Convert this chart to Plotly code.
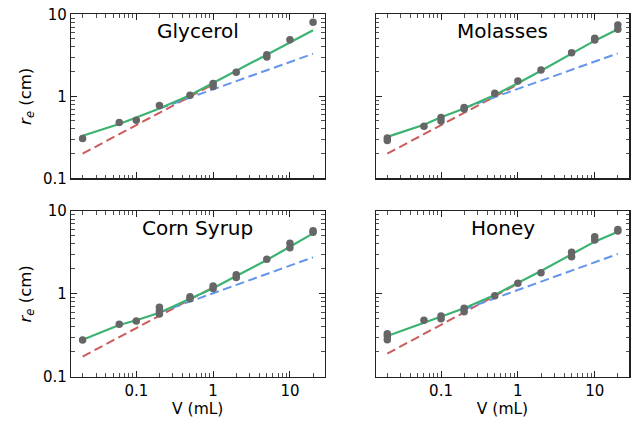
import plotly.graph_objects as go

# ---------------- data ----------------
fluids = ["Glycerol", "Molasses", "Corn Syrup", "Honey"]

glycerol_V = [0.02, 0.06, 0.1, 0.2, 0.5, 1, 1, 2, 5, 5, 10, 20]
glycerol_r = [0.305, 0.48, 0.51, 0.77, 1.03, 1.43, 1.32, 1.96, 3.22, 3.02, 4.9, 7.98]

molasses_V = [0.02, 0.02, 0.06, 0.1, 0.1, 0.2, 0.2, 0.5, 1, 2, 5, 10, 10, 20, 20]
molasses_r = [0.31, 0.29, 0.43, 0.55, 0.50, 0.73, 0.70, 1.09, 1.54, 2.09, 3.40, 5.09, 4.86, 7.41, 6.56]

corn_V = [0.02, 0.06, 0.1, 0.2, 0.2, 0.2, 0.5, 0.5, 1, 1, 2, 2, 5, 10, 10, 20, 20]
corn_r = [0.277, 0.43, 0.47, 0.69, 0.62, 0.57, 0.92, 0.87, 1.24, 1.16, 1.70, 1.58, 2.61, 4.07, 3.61, 5.78, 5.53]

honey_V = [0.02, 0.02, 0.02, 0.06, 0.1, 0.1, 0.2, 0.2, 0.5, 1, 2, 5, 5, 10, 10, 20, 20]
honey_r = [0.33, 0.31, 0.28, 0.48, 0.54, 0.50, 0.67, 0.61, 0.95, 1.34, 1.80, 3.17, 2.81, 4.90, 4.47, 6.0, 5.74]

# full fit (green)
fit_V = [0.02, 0.06, 0.1, 0.2, 0.5, 1, 2, 5, 10, 20]
glycerol_fit = [0.33, 0.46, 0.55, 0.71, 1.03, 1.45, 2.02, 3.16, 4.55, 6.40]
molasses_fit = [0.32, 0.45, 0.555, 0.71, 1.04, 1.44, 2.05, 3.34, 4.77, 6.56]
corn_fit = [0.28, 0.42, 0.48, 0.59, 0.87, 1.17, 1.64, 2.56, 3.71, 5.37]
honey_fit = [0.31, 0.45, 0.53, 0.67, 0.97, 1.34, 1.89, 3.00, 4.27, 5.62]

# small-volume asymptote (red dashed)
small_V = [0.02, 1]
glycerol_small = [0.20, 1.40]
molasses_small = [0.20, 1.40]
corn_small = [0.175, 1.20]
honey_small = [0.19, 1.33]

# large-volume asymptote (blue dashed)
large_V = [0.2, 20]
glycerol_large = [0.71, 3.30]
molasses_large = [0.72, 3.34]
corn_large = [0.595, 2.76]
honey_large = [0.65, 3.03]

x_ticks = [0.1, 1, 10]
x_ticktext = ["0.1", "1", "10"]
y_ticks = [0.1, 1, 10]
y_ticktext = ["0.1", "1", "10"]
x_minor_ticks = [0.02, 0.03, 0.04, 0.05, 0.06, 0.07, 0.08, 0.09,
                 0.2, 0.3, 0.4, 0.5, 0.6, 0.7, 0.8, 0.9,
                 2, 3, 4, 5, 6, 7, 8, 9, 20]
y_minor_ticks = [0.2, 0.3, 0.4, 0.5, 0.6, 0.7, 0.8, 0.9,
                 2, 3, 4, 5, 6, 7, 8, 9]

panels = [
    (glycerol_V, glycerol_r, glycerol_fit, glycerol_small, glycerol_large),
    (molasses_V, molasses_r, molasses_fit, molasses_small, molasses_large),
    (corn_V, corn_r, corn_fit, corn_small, corn_large),
    (honey_V, honey_r, honey_fit, honey_small, honey_large),
]

# ---------------- figure ----------------
W, H = 638, 424
xdom = [[71 / W, 324.5 / W], [375.7 / W, 629.3 / W]]
ydom = [[1 - 178.3 / H, 1 - 14.3 / H], [1 - 376.7 / H, 1 - 211 / H]]
XRANGE = [-1.85, 1.45]
YRANGE = [-1, 1]

GREEN = "#3cb371"
RED = "#cd5c5c"
BLUE = "#6495ed"
GRAY = "#666666"
AXC = "#222222"
FONT = "DejaVu Sans"

fig = go.Figure()
layout = {}
annotations = []

base = dict(
    type="log", showgrid=False, zeroline=False, automargin=False,
    showline=True, linecolor=AXC, linewidth=1.2, mirror="ticks",
    ticks="inside", ticklen=6, tickwidth=1, tickcolor=AXC, tickmode="array",
    tickfont=dict(family=FONT, size=15, color="black"),
)


def minor(vals):
    return dict(tickmode="array", tickvals=vals, ticks="inside", ticklen=3.5,
                tickwidth=0.8, tickcolor=AXC, showgrid=False)


for i, (name, (V, r, fit, small, large)) in enumerate(zip(fluids, panels)):
    row, col = divmod(i, 2)
    n = i + 1
    xa = "x" if n == 1 else f"x{n}"
    ya = "y" if n == 1 else f"y{n}"
    fig.add_trace(go.Scatter(x=small_V, y=small, mode="lines", xaxis=xa, yaxis=ya,
                             line=dict(color=RED, width=2, dash="9px,4.5px"), showlegend=False))
    fig.add_trace(go.Scatter(x=large_V, y=large, mode="lines", xaxis=xa, yaxis=ya,
                             line=dict(color=BLUE, width=2, dash="9px,4.5px"), showlegend=False))
    fig.add_trace(go.Scatter(x=fit_V, y=fit, mode="lines", xaxis=xa, yaxis=ya,
                             line=dict(color=GREEN, width=2.2), showlegend=False))
    fig.add_trace(go.Scatter(x=V, y=r, mode="markers", xaxis=xa, yaxis=ya,
                             marker=dict(color=GRAY, size=7.5), showlegend=False))

    xkey = "xaxis" if n == 1 else f"xaxis{n}"
    ykey = "yaxis" if n == 1 else f"yaxis{n}"
    xcfg = dict(base, domain=xdom[col], range=XRANGE, anchor=ya, minor=minor(x_minor_ticks),
                tickvals=x_ticks, ticktext=x_ticktext, showticklabels=(row == 1))
    if row == 1:
        xcfg["title"] = dict(text="V (mL)", font=dict(family=FONT, size=15.5, color="black"), standoff=4)
    ycfg = dict(base, domain=ydom[row], range=YRANGE, anchor=xa, minor=minor(y_minor_ticks),
                tickvals=y_ticks, ticktext=y_ticktext, showticklabels=(col == 0))
    if col == 0:
        ycfg["title"] = dict(text="<i>r<sub>e</sub></i> (cm)", font=dict(family=FONT, size=16.5, color="black"), standoff=7)
    layout[xkey] = xcfg
    layout[ykey] = ycfg

    annotations.append(dict(text=name, xref=f"{xa} domain", yref=f"{ya} domain",
                            x=0.5, y=0.898, xanchor="center", yanchor="middle", showarrow=False,
                            font=dict(family=FONT, size=20, color="black")))

fig.update_layout(
    width=W, height=H,
    margin=dict(l=0, r=0, t=0, b=0),
    paper_bgcolor="white", plot_bgcolor="white",
    hovermode=False,
    annotations=annotations,
    **layout,
)

fig.write_html(
    "out.html",
    config={"staticPlot": True, "displayModeBar": False},
    post_script="document.body.style.margin='0px';document.body.style.padding='0px';",
)
